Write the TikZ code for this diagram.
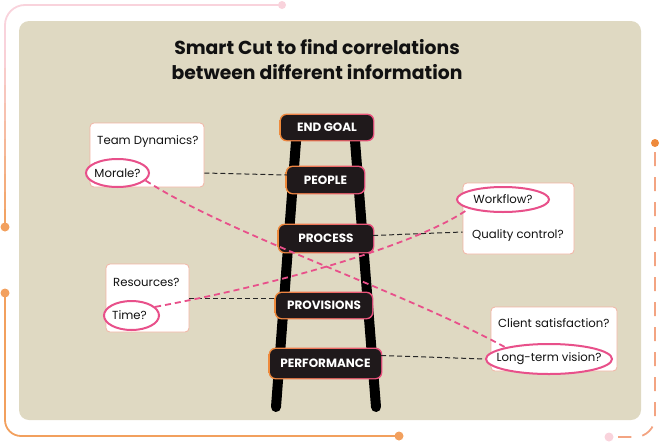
\documentclass[tikz,border=0pt]{standalone}
\usepackage{fontspec}
\setmainfont{Poppins}
\usetikzlibrary{shapes.geometric}
\definecolor{panel}{HTML}{DFD9C2}
\definecolor{nodedark}{HTML}{1F191B}
\definecolor{gorange}{HTML}{EE8A3C}
\definecolor{gpink}{HTML}{E94F7F}
\definecolor{epink}{HTML}{E8508A}
\definecolor{boxedge}{HTML}{F2B4A4}
\definecolor{decoorange}{HTML}{F2A05E}
\definecolor{decopink}{HTML}{F9D3DC}
\definecolor{rdash}{HTML}{F3A482}
\definecolor{inktext}{HTML}{111111}
\tikzset{
  wbox/.style={draw=boxedge, line width=0.8pt, fill=white, rounded corners=4pt, inner sep=0pt},
  itemtext/.style={font=\fontsize{11.7}{13}\selectfont, text=inktext, inner sep=0pt},
  ring/.style={ellipse, draw=epink, line width=2pt, fill=white, inner sep=0pt},
  lad/.style={fill=nodedark, rounded corners=6pt, text=white, inner sep=0pt, font=\bfseries\fontsize{12}{14}\selectfont},
  blackdash/.style={draw=black!85, line width=1pt, dash pattern=on 5pt off 3pt},
  pinkdash/.style={draw=epink, line width=1.8pt, dash pattern=on 6pt off 4pt},
  rail/.style={line width=10pt, line cap=round, black},
}
\begin{document}
\begin{tikzpicture}[x=1pt,y=-1pt]
\useasboundingbox (0,0) rectangle (661,442);
% panel
\fill[panel, rounded corners=10pt] (19,21) rectangle (641,420);
% top-left decoration
\draw[decopink, line width=1.8pt, rounded corners=20pt] (5,60) -- (5,5) -- (282,5);
\foreach \i in {0,...,9}{
  \pgfmathtruncatemacro\a{10*\i+5}
  \draw[line width=1.8pt, color=decoorange!\a!decopink] (5,{50+\i*17.7}) -- (5,{50+(\i+1)*17.7+0.6});
}
\fill[decoorange] (5,227) circle (4.5pt);
\fill[decopink] (282,5) circle (4pt);
% bottom-left decoration
\draw[decoorange, line width=1.8pt, rounded corners=16pt] (5,293) -- (5,436) -- (399,436);
\fill[decoorange] (5,293) circle (4.5pt);
\fill[decoorange] (399,436) circle (4.5pt);
% right decoration
\draw[rdash, line width=1.8pt, dash pattern=on 14pt off 11pt, rounded corners=20pt] (655,152) -- (655,437) -- (618,437);
\fill[gorange] (655,143) circle (4pt);
\fill[decopink] (609,437) circle (4.5pt);
% title
\node[font=\bfseries\fontsize{18.8}{25}\selectfont, align=center, text=inktext] (title) at (317,59.5) {Smart Cut to find correlations\\between different information};
% ladder rails
\draw[rail] (297,128) -- (276,407);
\draw[rail] (354,128) -- (376,407);
% white boxes
\node[wbox, minimum width=114pt, minimum height=64pt] (box1) at (147,155) {};
\node[wbox, minimum width=111pt, minimum height=71pt] (box2) at (518.5,218.5) {};
\node[wbox, minimum width=83pt, minimum height=68pt] (box3) at (147.5,298) {};
\node[wbox, minimum width=126pt, minimum height=64pt] (box4) at (554,339) {};
\node[itemtext, anchor=west] (teamdyn) at (97,142) {Team Dynamics?};
\node[itemtext, anchor=west] (quality) at (472,236) {Quality control?};
\node[itemtext, anchor=west] (resources) at (113,282) {Resources?};
\node[itemtext, anchor=west] (client) at (498,323) {Client satisfaction?};
% ladder nodes
\foreach \nm/\cx/\cy/\w/\h/\lab in {endgoal/327/127.5/92/25/END GOAL, people/325.5/180/77/26/PEOPLE, process/326/238.5/94/27/PROCESS, provisions/324/305.5/96/25/PROVISIONS, performance/325.5/363.5/111/29/PERFORMANCE}{
  \shade[rounded corners=7pt, left color=gorange, right color=gpink] ({\cx-\w/2-1.4},{\cy-\h/2-1.4}) rectangle ({\cx+\w/2+1.4},{\cy+\h/2+1.4});
  \node[lad, minimum width=\w pt, minimum height=\h pt] (\nm) at (\cx,\cy) {\lab};
}
% rings
\node[ring, minimum width=63pt, minimum height=28pt] (morale) at (117.5,173) {};
\node[itemtext] at (morale) {Morale?};
\node[ring, minimum width=92pt, minimum height=25pt] (workflow) at (503,199.5) {};
\node[itemtext] at (workflow) {Workflow?};
\node[ring, minimum width=55pt, minimum height=29pt] (time) at (131.5,315.5) {};
\node[itemtext] at ([xshift=-2pt]time.center) {Time?};
\node[ring, minimum width=126pt, minimum height=30pt] (ltv) at (549,359) {};
\node[itemtext] at (ltv) {Long-term vision?};
% black dashed connectors
\draw[blackdash] (box1.east |- morale) -- ([yshift=5pt]people.west);
\draw[blackdash] ([yshift=3pt]process.east) -- ([yshift=4pt]box2.west |- quality);
\draw[blackdash] (box3.east) -- (provisions.west |- box3.east);
\draw[blackdash] ([yshift=8pt]performance.east) -- (ltv.west);
% pink dashed curves
\draw[pinkdash] (morale.-15) .. controls (230,235) and (400,290) .. (ltv.165);
\draw[pinkdash] (time.20) .. controls (300,280) and (425,240) .. (workflow.195);
\end{tikzpicture}
\end{document}
